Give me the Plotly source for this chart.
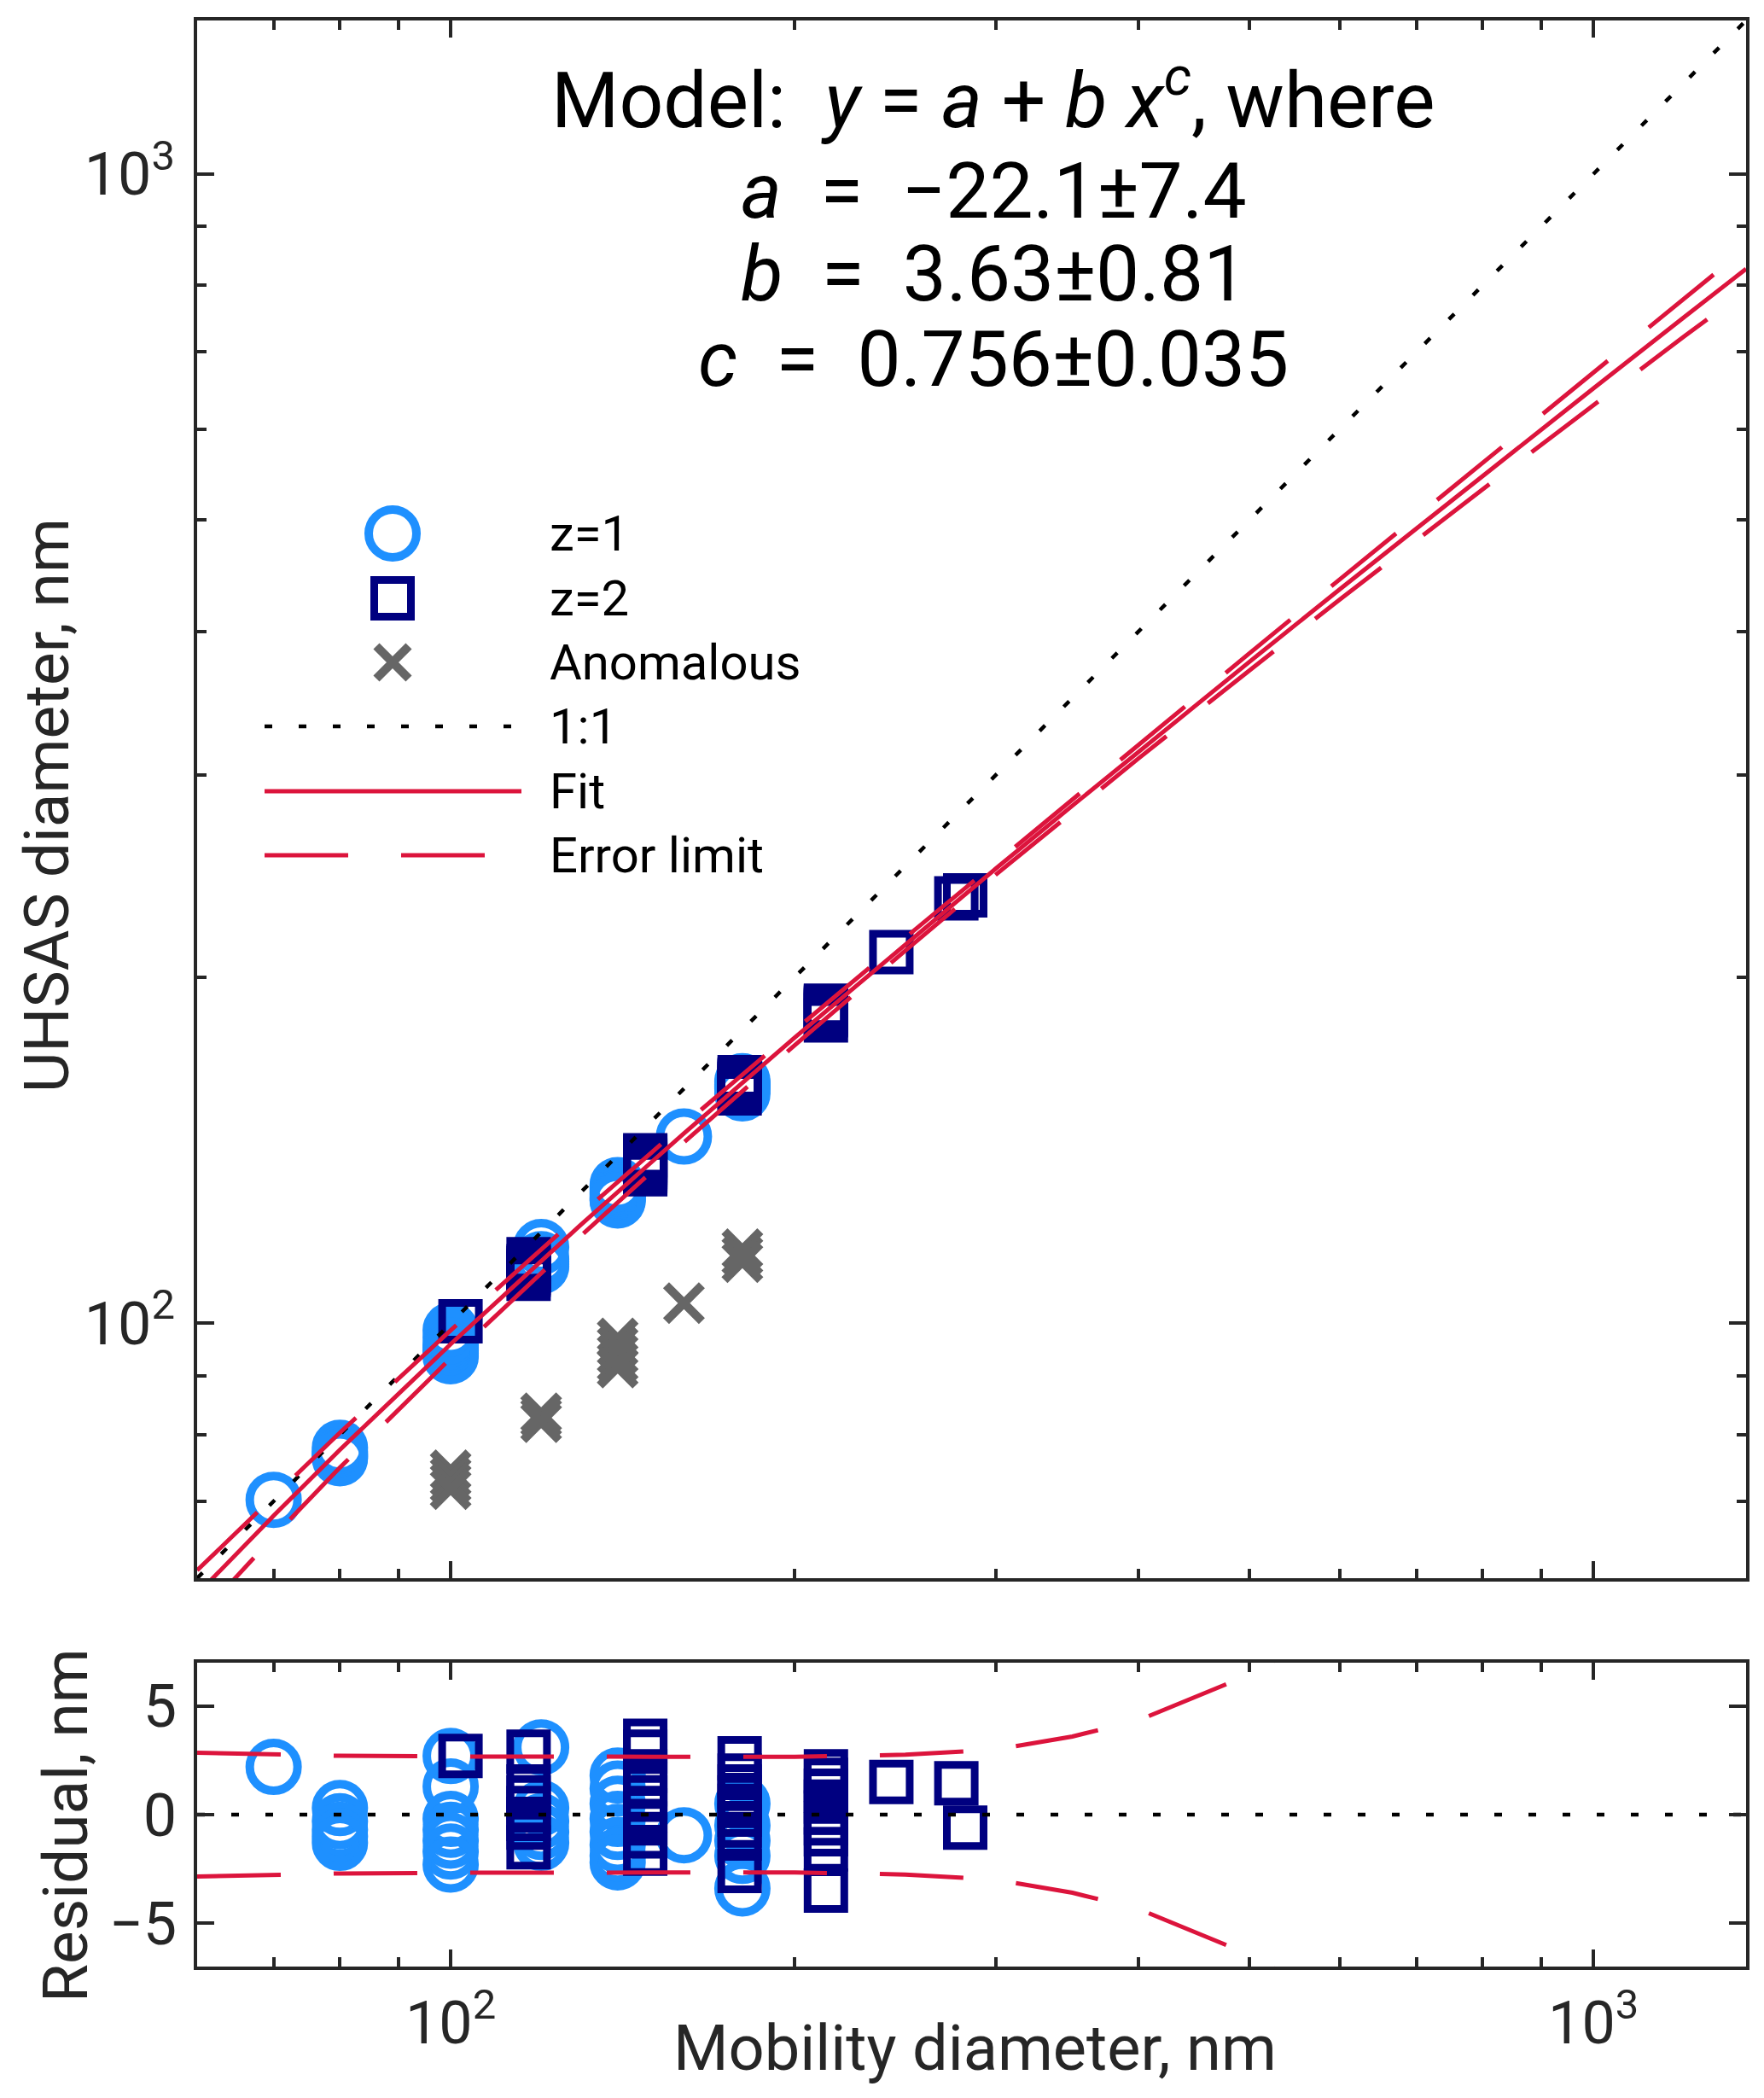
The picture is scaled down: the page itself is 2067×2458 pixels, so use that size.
import plotly.graph_objects as go

W, H = 2067, 2458

# ---- data (nm) ----
x_lim = [60, 1360]

# z=1 particles: mobility diameter, UHSAS diameter, residual
z1_x = [70, 80, 80, 80, 80, 80,
        100, 100, 100, 100, 100, 100, 100,
        120, 120, 120, 120, 120,
        140, 140, 140, 140, 140, 140, 140, 140,
        160, 180, 180, 180, 180, 180]
z1_y = [70.2, 77.9, 77.3, 76.9, 76.6, 76.3,
        98.6, 97.2, 95.7, 95.2, 94.7, 94.2, 93.6,
        116.5, 113.7, 113.1, 112.6, 112.1,
        131.9, 131.3, 130.6, 129.9, 129.3, 128.7, 128.2, 127.9,
        145.35, 162.4, 161.4, 160.7, 160.0, 158.5]
z1_res = [2.2, 0.3, -0.3, -0.7, -1.0, -1.3,
          2.7, 1.3, -0.2, -0.7, -1.2, -1.7, -2.3,
          3.1, 0.3, -0.3, -0.8, -1.3,
          1.8, 1.2, 0.5, -0.2, -0.8, -1.4, -1.9, -2.2,
          -0.95, 0.5, -0.5, -1.2, -1.9, -3.4]

# z=2 particles
z2_x = [102, 117, 117, 117, 117, 117, 117, 117,
        148, 148, 148, 148, 148, 148, 148, 148, 148,
        179, 179, 179, 179, 179, 179, 179, 179, 179,
        213, 213, 213, 213, 213, 213, 213, 213, 213,
        243, 277, 282]
z2_y = [100.4, 113.7, 112.1, 111.6, 111.1, 110.6, 110.2, 109.3,
        140.0, 139.5, 138.6, 138.0, 137.4, 136.8, 136.2, 135.6, 134.8,
        163.7, 162.9, 162.4, 161.9, 161.5, 161.1, 160.6, 160.0, 158.5,
        188.9, 188.5, 188.0, 187.5, 187.0, 186.5, 186.0, 185.3, 183.4,
        210.3, 234.25, 235.7]
z2_res = [2.7, 2.9, 1.3, 0.8, 0.3, -0.2, -0.6, -1.5,
          3.4, 2.9, 2.0, 1.4, 0.8, 0.2, -0.4, -1.0, -1.8,
          2.6, 1.8, 1.3, 0.8, 0.4, 0.0, -0.5, -1.1, -2.6,
          2.0, 1.6, 1.1, 0.6, 0.1, -0.4, -0.9, -1.6, -3.5,
          1.5, 1.45, -0.6]

# anomalous points
anom_x = [100, 100, 100, 100, 120, 120, 120,
          140, 140, 140, 140, 140, 160, 180, 180, 180]
anom_y = [74.5, 73.5, 72.6, 71.7, 83.5, 82.8, 82.0,
          97.0, 95.5, 94.0, 92.5, 91.5, 104.1, 116.0, 114.5, 113.0]

# fit curve and error limits
fit_x = [60, 70, 80, 100, 130, 160, 200, 250, 300, 350, 400, 500,
         600, 800, 1000, 1200, 1360]
fit_y = [58.1, 68.0, 77.6, 95.9, 121.8, 146.3, 177.2, 213.8, 248.7, 282.1,
         314.5, 376.3, 435.2, 546.3, 650.8, 750.4, 826.9]
err_up = [60.95, 70.76, 80.31, 98.58, 124.46, 148.95, 179.86, 216.56, 251.7,
          285.7, 318.85, 382.75, 444.0, 560.9, 672.0, 778.9, 861.9]
err_lo = [55.25, 65.24, 74.89, 93.22, 119.14, 143.65, 174.54, 211.04, 245.7,
          278.5, 310.15, 369.85, 426.4, 531.7, 629.6, 721.9, 791.9]
res_err_up = [2.85, 2.76, 2.71, 2.68, 2.66, 2.65, 2.66, 2.76, 3.0, 3.6,
              4.35, 6.45, 8.8, 14.6, 21.2, 28.5, 35.0]
res_err_lo = [-2.85, -2.76, -2.71, -2.68, -2.66, -2.65, -2.66, -2.76, -3.0, -3.6,
              -4.35, -6.45, -8.8, -14.6, -21.2, -28.5, -35.0]

legend_labels = ["z=1", "z=2", "Anomalous", "1:1", "Fit", "Error limit"]

# ---- styles ----
FONT = "Roboto"
AX = "#262626"
C1 = "#1E90FF"
C2 = "#000080"
CX = "#666666"
RED = "#DC143C"
DOT = dict(color="black", width=4.5, dash="9px,31px")
FIT = dict(color=RED, width=5)
ERR = dict(color=RED, width=5, dash="98px,62px")
M1 = dict(symbol="circle-open", size=56, color=C1, line=dict(width=10, color=C1))
M2 = dict(symbol="square-open", size=43, color=C2, line=dict(width=9, color=C2))
MX = dict(symbol="x-thin", size=42, color=CX, line=dict(width=10, color=CX))

fig = go.Figure()

# main panel
fig.add_trace(go.Scatter(x=z1_x, y=z1_y, mode="markers", marker=M1, xaxis="x", yaxis="y"))
fig.add_trace(go.Scatter(x=z2_x, y=z2_y, mode="markers", marker=M2, xaxis="x", yaxis="y"))
fig.add_trace(go.Scatter(x=anom_x, y=anom_y, mode="markers", marker=MX, xaxis="x", yaxis="y"))
fig.add_trace(go.Scatter(x=x_lim, y=x_lim, mode="lines", line=DOT, xaxis="x", yaxis="y"))
fig.add_trace(go.Scatter(x=fit_x, y=fit_y, mode="lines", line=FIT, xaxis="x", yaxis="y"))
fig.add_trace(go.Scatter(x=fit_x, y=err_up, mode="lines", line=ERR, xaxis="x", yaxis="y"))
fig.add_trace(go.Scatter(x=fit_x, y=err_lo, mode="lines", line=ERR, xaxis="x", yaxis="y"))

# residual panel
fig.add_trace(go.Scatter(x=z1_x, y=z1_res, mode="markers", marker=M1, xaxis="x2", yaxis="y2"))
fig.add_trace(go.Scatter(x=z2_x, y=z2_res, mode="markers", marker=M2, xaxis="x2", yaxis="y2"))
fig.add_trace(go.Scatter(x=x_lim, y=[0, 0], mode="lines", line=DOT, xaxis="x2", yaxis="y2"))
fig.add_trace(go.Scatter(x=fit_x, y=res_err_up, mode="lines", line=ERR, xaxis="x2", yaxis="y2"))
fig.add_trace(go.Scatter(x=fit_x, y=res_err_lo, mode="lines", line=ERR, xaxis="x2", yaxis="y2"))

# hand-drawn legend on a pixel-frame overlay axis
leg_rows = [617, 693, 768, 843, 919, 994]
leg_mx = 452
leg_line = [302, 603]
leg_tx = 634
for row, m in zip(leg_rows[:3], [M1, M2, dict(MX, size=38)]):
    fig.add_trace(go.Scatter(x=[leg_mx], y=[row], mode="markers", marker=m,
                             xaxis="x3", yaxis="y3"))
for row, ln in zip(leg_rows[3:], [DOT, FIT, ERR]):
    fig.add_trace(go.Scatter(x=leg_line, y=[row, row], mode="lines", line=ln,
                             xaxis="x3", yaxis="y3"))

annotations = []
for row, lab in zip(leg_rows, legend_labels):
    annotations.append(dict(x=leg_tx / W, y=1 - row / H, xref="paper", yref="paper",
                            text=lab, showarrow=False, xanchor="left", yanchor="middle",
                            font=dict(size=58, color="black", family=FONT)))

model_lines = ["Model:  <i>y</i> = <i>a</i> + <i>b x</i><sup><i>c</i></sup>, where",
               "<i>a</i>  =  \u221222.1\u00b17.4",
               "<i>b</i>  =  3.63\u00b10.81",
               "<i>c</i>  =  0.756\u00b10.035"]
for yy, t in zip([104, 216, 313, 413], model_lines):
    annotations.append(dict(x=1156 / W, y=1 - yy / H, xref="paper", yref="paper",
                            text=t, showarrow=False, xanchor="center", yanchor="middle",
                            font=dict(size=91, color="black", family=FONT)))

title_font = dict(size=73, color=AX, family=FONT)
annotations += [
    dict(x=47 / W, y=1 - 936 / H, xref="paper", yref="paper", text="UHSAS diameter, nm",
         textangle=-90, showarrow=False, xanchor="center", yanchor="middle",
         font=title_font),
    dict(x=69 / W, y=1 - 2131 / H, xref="paper", yref="paper", text="Residual, nm",
         textangle=-90, showarrow=False, xanchor="center", yanchor="middle",
         font=title_font),
    dict(x=1134 / W, y=1 - 2391 / H, xref="paper", yref="paper",
         text="Mobility diameter, nm", showarrow=False, xanchor="center",
         yanchor="middle", font=dict(title_font, size=74)),
]

log_lim = [1.778151, 3.133539]
minor_vals = [60, 70, 80, 90, 200, 300, 400, 500, 600, 700, 800, 900]
x_dom = [223 / W, 2038 / W]

common = dict(showline=True, linewidth=4, linecolor=AX, mirror="ticks",
              ticks="inside", ticklen=20, tickwidth=4, tickcolor=AX,
              showgrid=False, zeroline=False,
              tickfont=dict(size=70, color=AX, family=FONT))
log_common = dict(common, type="log", range=log_lim,
                  tickmode="array", tickvals=[100, 1000],
                  ticktext=["10<sup>2</sup>", "10<sup>3</sup>"],
                  minor=dict(tickmode="array", tickvals=minor_vals, ticks="inside",
                             ticklen=11, tickwidth=4, tickcolor=AX, showgrid=False))

fig.update_layout(
    width=W, height=H,
    margin=dict(l=0, r=0, t=0, b=0),
    paper_bgcolor="white", plot_bgcolor="rgba(0,0,0,0)",
    showlegend=False,
    xaxis=dict(log_common, domain=x_dom, anchor="y", showticklabels=False),
    yaxis=dict(log_common, domain=[1 - 1841 / H, 1 - 16 / H], anchor="x",
               ticklabelstandoff=8),
    xaxis2=dict(log_common, domain=x_dom, anchor="y2", ticklabelstandoff=2),
    yaxis2=dict(common, domain=[1 - 2296 / H, 1 - 1940 / H], anchor="x2",
                range=[-7, 7], tickmode="array", tickvals=[-5, 0, 5],
                ticktext=["\u22125", "0", "5"], ticklabelstandoff=6),
    xaxis3=dict(domain=[0, 1], range=[0, W], anchor="y3", visible=False, fixedrange=True),
    yaxis3=dict(domain=[0, 1], range=[H, 0], anchor="x3", visible=False, fixedrange=True),
    annotations=annotations,
)

fig.write_html("out.html")
